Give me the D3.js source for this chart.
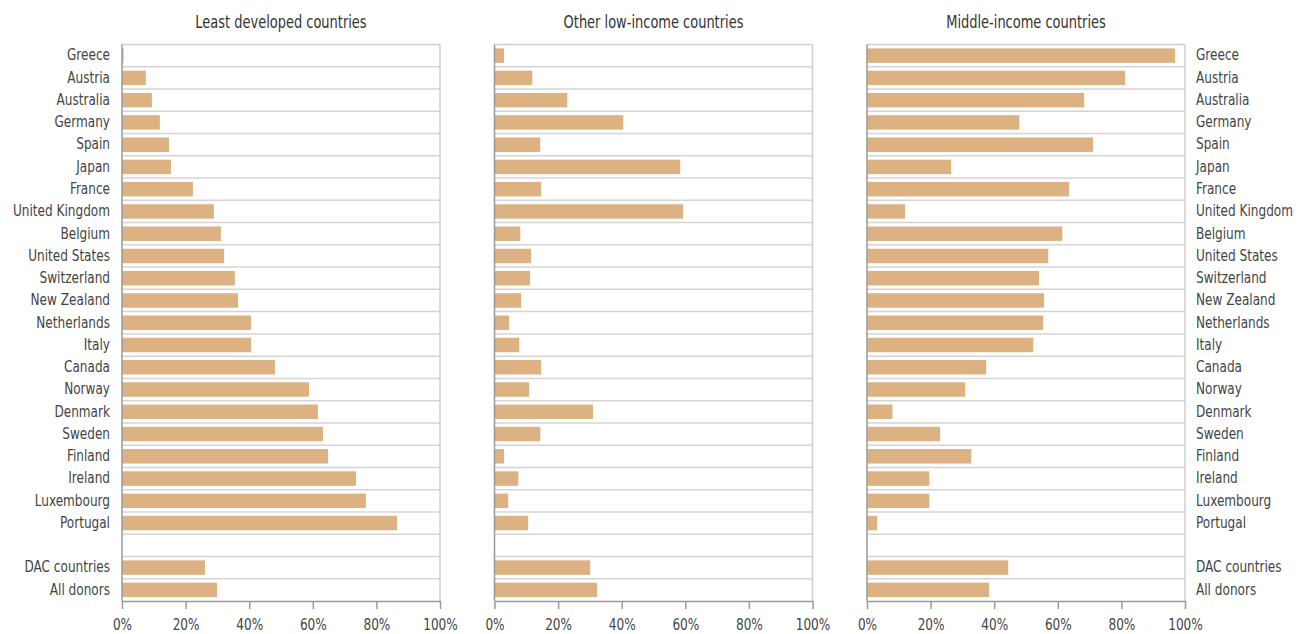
<!DOCTYPE html>
<html>
<head>
<meta charset="utf-8">
<script src="https://cdn.jsdelivr.net/npm/d3@7"></script>
<style>
  html, body { margin: 0; padding: 0; background: #fff; }
  svg { display: block; }
  text { font-family: "Liberation Sans Narrow", "DejaVu Sans Condensed", "Liberation Sans", sans-serif; }
</style>
</head>
<body>
<svg id="chart" width="1298" height="634"></svg>
<script>
// ---- data ----
const categories = ["Greece","Austria","Australia","Germany","Spain","Japan","France","United Kingdom",
  "Belgium","United States","Switzerland","New Zealand","Netherlands","Italy","Canada","Norway",
  "Denmark","Sweden","Finland","Ireland","Luxembourg","Portugal","","DAC countries","All donors"];
const panelTitles = ["Least developed countries","Other low-income countries","Middle-income countries"];
const leastDeveloped = [0.5,7.5,9.4,11.9,14.8,15.4,22.3,28.9,31.1,32.1,35.5,36.5,40.6,40.6,48.1,58.8,61.6,63.2,64.8,73.6,76.7,86.5,null,26.1,29.9];
const otherLowIncome = [3.0,11.9,22.9,40.5,14.4,58.4,14.7,59.3,8.1,11.5,11.2,8.4,4.6,7.8,14.7,10.9,31.0,14.4,3.0,7.5,4.3,10.6,null,30.1,32.3];
const middleIncome = [96.9,81.2,68.3,47.9,71.1,26.5,63.6,12.0,61.4,57.0,54.1,55.7,55.4,52.3,37.5,30.9,8.0,23.0,32.8,19.6,19.6,3.2,null,44.4,38.4];
const xTicks = [0,20,40,60,80,100];

(function () {
const series = [leastDeveloped, otherLowIncome, middleIncome];
const panelLeft = [122, 494.5, 867];
const panelWidth = 318;
const plotTop = 44.5, plotBottom = 601;

const svg = d3.select("#chart");
const idx = categories.map((c,i)=>i);
const y = d3.scaleBand().domain(idx).range([plotTop,plotBottom]).paddingInner(0.35).paddingOuter(0.175);
const yRow = d3.scaleBand().domain(idx).range([plotTop,plotBottom]);

series.forEach((vals, p) => {
  const x = d3.scaleLinear().domain([0,100]).range([panelLeft[p], panelLeft[p]+panelWidth]);
  const g = svg.append("g");

  g.selectAll("line.row").data(d3.range(1, categories.length)).join("line")
    .attr("class", "row")
    .attr("x1", x(0)).attr("x2", x(100))
    .attr("y1", i => yRow(i)).attr("y2", i => yRow(i))
    .attr("stroke", "#d4d4d4").attr("stroke-width", 1.5);
  g.append("line").attr("x1", x(0)).attr("x2", x(100)).attr("y1", plotTop).attr("y2", plotTop)
    .attr("stroke", "#cfcfcf").attr("stroke-width", 1.5);
  g.append("line").attr("x1", x(100)).attr("x2", x(100)).attr("y1", plotTop).attr("y2", plotBottom)
    .attr("stroke", "#cfcfcf").attr("stroke-width", 1.5);

  g.selectAll("rect").data(vals.map((v,i)=>({v,i})).filter(d=>d.v!=null)).join("rect")
    .attr("x", x(0)).attr("y", d => y(d.i))
    .attr("width", d => x(d.v) - x(0)).attr("height", y.bandwidth())
    .attr("fill", "#dcb282");

  g.append("line").attr("x1", x(0)).attr("x2", x(0)).attr("y1", plotTop).attr("y2", plotBottom)
    .attr("stroke", "#999").attr("stroke-width", 1.5);

  const ax = g.append("g").attr("transform", `translate(0,${plotBottom})`)
    .call(d3.axisBottom(x).tickValues(xTicks).tickFormat(d => d + "%").tickSize(8).tickSizeOuter(0).tickPadding(10));
  ax.select(".domain").attr("stroke", "#999").attr("stroke-width", 1.5);
  ax.selectAll(".tick line").attr("stroke", "#999").attr("stroke-width", 1.5);
  ax.selectAll(".tick text").attr("class", "fit").attr("fill", "#444").style("font-size", "16px")
    .style("font-family", '"Liberation Sans Narrow", "DejaVu Sans Condensed", sans-serif');

  g.append("text").attr("class", "fit title").attr("x", x(50)).attr("y", 28).attr("text-anchor", "middle")
    .attr("fill", "#333").style("font-size", "17.2px").text(panelTitles[p]);

  if (p === 0 || p === 2) {
    g.selectAll("text.cat").data(categories.map((c,i)=>({c,i}))).join("text")
      .attr("class", "cat fit")
      .attr("x", p === 0 ? x(0) - 12 : x(100) + 11)
      .attr("y", d => yRow(d.i) + yRow.bandwidth()/2)
      .attr("dy", "0.3em")
      .attr("text-anchor", p === 0 ? "end" : "start")
      .attr("fill", "#444").style("font-size", "16px")
      .text(d => d.c);
  }
});

// condense text horizontally to mimic the narrow typeface of the original
const uk = svg.selectAll("text.cat").filter(d => d && d.c === "United Kingdom").node();
const factor = uk ? 97 / uk.getComputedTextLength() : 0.82;
svg.selectAll("text.fit").each(function () {
  const len = this.getComputedTextLength();
  if (len > 0) {
    d3.select(this).attr("textLength", len * factor).attr("lengthAdjust", "spacingAndGlyphs");
  }
});
})();
</script>
</body>
</html>
